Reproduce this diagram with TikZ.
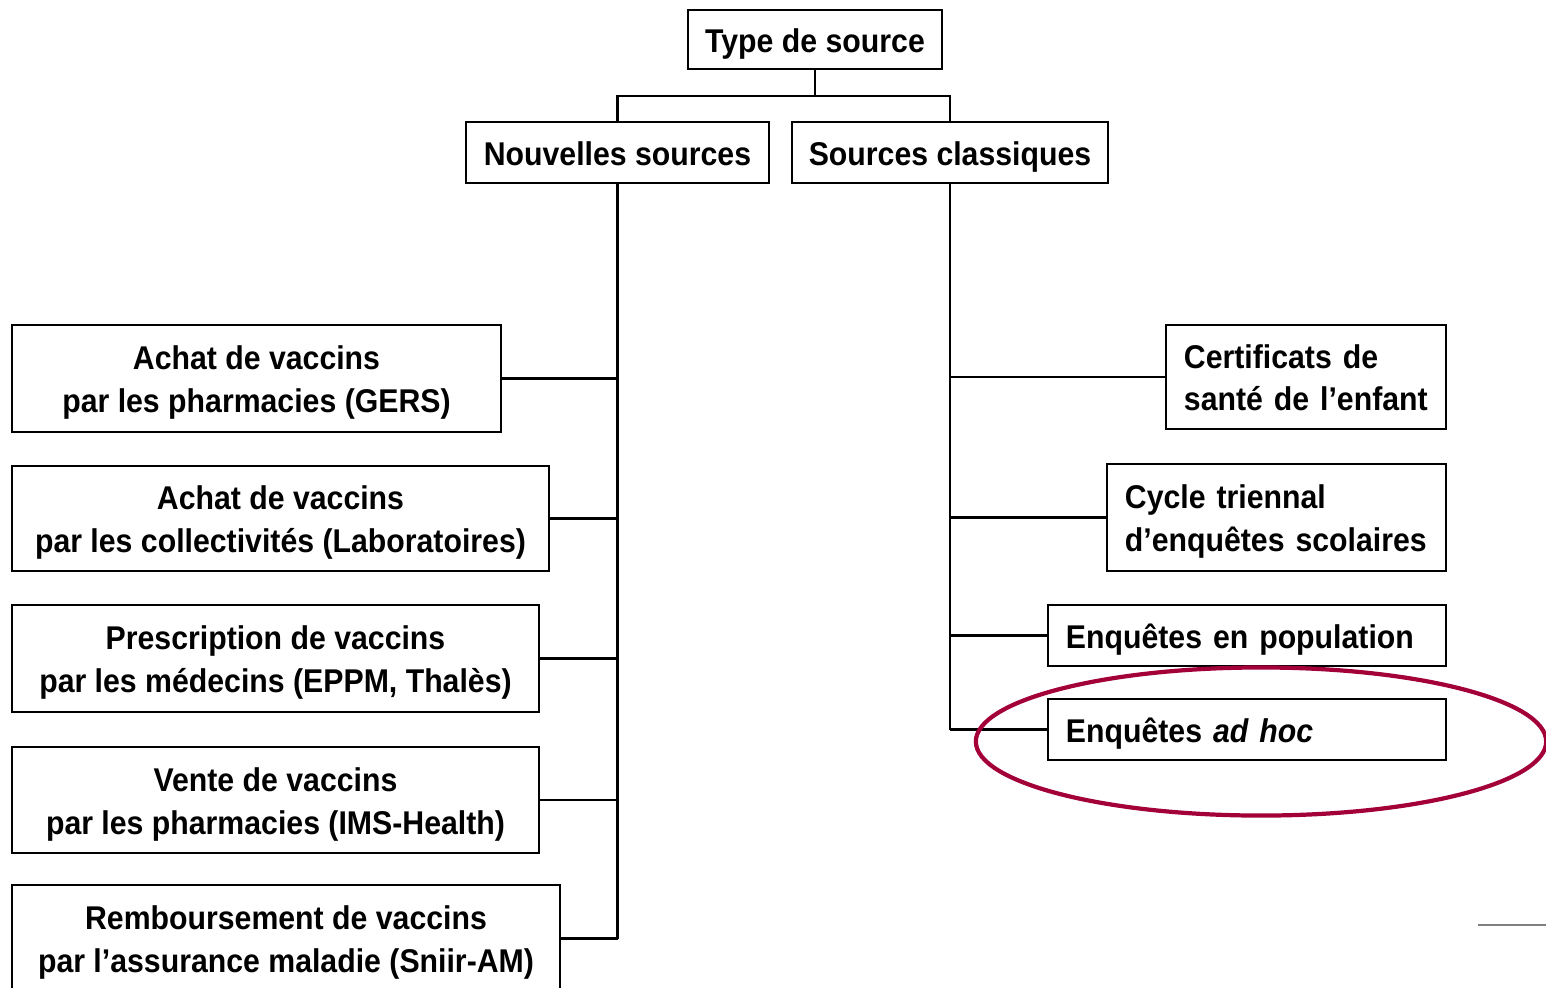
\documentclass[tikz,border=0pt]{standalone}
\usepackage{fontspec}
\setmainfont{Liberation Sans}[FakeStretch=0.92]
\definecolor{cercle}{RGB}{163,0,57}
\begin{document}
\begin{tikzpicture}[x=0.01cm, y=-0.01cm,
	boite/.style={draw, line width=0.75pt, inner sep=0pt, align=center, font=\bfseries\fontsize{9.35}{12.2}\selectfont},
	boited/.style={boite, align=left, inner xsep=0.18cm},
	ligne1/.style={text height=8.5pt, text depth=1.1pt},
	ligne2/.style={text height=20.5pt, text depth=1.1pt},
	ligne2d/.style={text height=8pt, text depth=13.1pt},
	lien/.style={line width=0.75pt}]
	\useasboundingbox (0,0) rectangle (1546,987);
	\node[boite, ligne1, minimum width=2.54cm, minimum height=0.59cm] (type) at (815,39.5) {Type de source};
	\node[boite, ligne1, minimum width=3.03cm, minimum height=0.61cm] (nouv) at (617.5,152.5) {Nouvelles sources};
	\node[boite, ligne1, minimum width=3.16cm, minimum height=0.61cm] (class) at (950,152.5) {Sources classiques};
	\node[boite, ligne2, minimum width=4.89cm, minimum height=1.07cm] (gers) at (256.5,378.5) {Achat de vaccins\\par les pharmacies (GERS)};
	\node[boite, ligne2, minimum width=5.37cm, minimum height=1.05cm] (coll) at (280.5,518.5) {Achat de vaccins\\par les collectivités (Laboratoires)};
	\node[boite, ligne2, minimum width=5.27cm, minimum height=1.07cm] (presc) at (275.5,658.5) {Prescription de vaccins\\par les médecins (EPPM, Thalès)};
	\node[boite, ligne2, minimum width=5.27cm, minimum height=1.06cm] (vente) at (275.5,800) {Vente de vaccins\\par les pharmacies (IMS-Health)};
	\node[boite, ligne2, minimum width=5.48cm, minimum height=1.07cm] (remb) at (286,938.5) {Remboursement de vaccins\\par l’assurance maladie (Sniir-AM)};
	\node[boited, ligne2d, minimum width=2.80cm, text width=2.44cm, minimum height=1.04cm] (certif) at (1306,377) {Certificats de\\santé de l’enfant};
	\node[boited, ligne2d, minimum width=3.39cm, text width=3.03cm, minimum height=1.07cm] (cycle) at (1276.5,517.5) {Cycle triennal\\d’enquêtes scolaires};
	\node[boited, ligne1, minimum width=3.98cm, text width=3.62cm, minimum height=0.61cm] (pop) at (1247,635.5) {Enquêtes en population};
	\node[boited, ligne1, minimum width=3.98cm, text width=3.62cm, minimum height=0.61cm] (adhoc) at (1247,729.5) {Enquêtes \textit{ad hoc}};
	\coordinate (fourche) at (816,96);
	\draw[lien] (type.south) -- (type.south |- fourche);
	\draw[lien] (nouv.north) |- (fourche) -| (class.north);
	\draw[lien] (nouv.south) -- (nouv.south |- remb.east);
	\foreach \b in {gers,coll,presc,vente,remb}
		\draw[lien] (\b.east) -- (\b.east -| nouv.south);
	\draw[lien] (class.south) -- (class.south |- adhoc.west);
	\foreach \b in {certif,cycle,pop,adhoc}
		\draw[lien] (\b.west) -- (\b.west -| class.south);
	\draw[cercle, line width=1.2pt] (1261,741.5) ellipse [x radius=2.85cm, y radius=0.74cm];
	\draw[gray, line width=0.6pt] (1478,925) -- (1546,925);
\end{tikzpicture}
\end{document}
